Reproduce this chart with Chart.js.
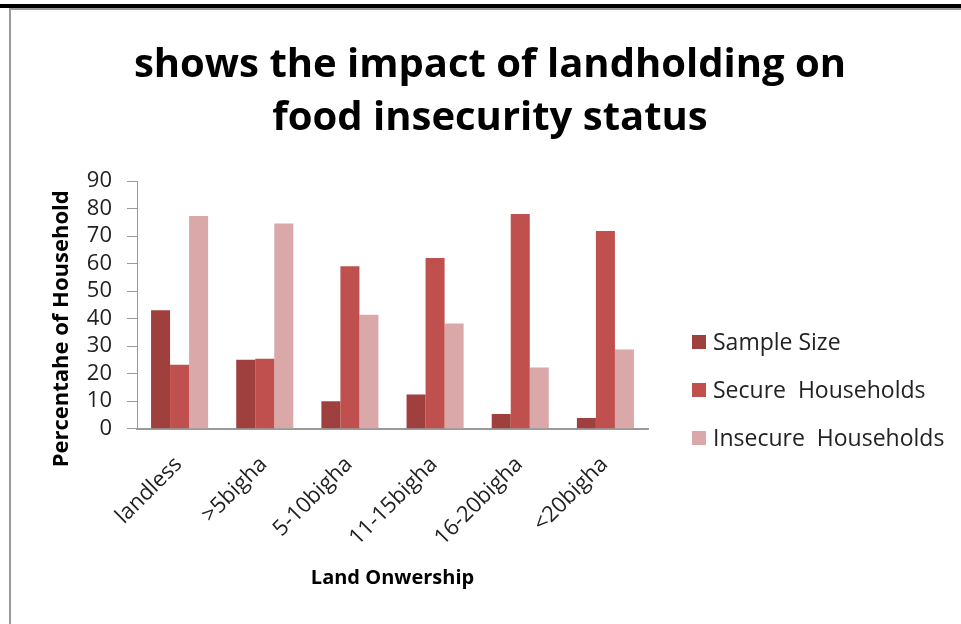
<!DOCTYPE html>
<html>
<head>
<meta charset="utf-8">
<script src="https://cdn.jsdelivr.net/npm/chart.js@4/dist/chart.umd.min.js"></script>
<style>
  body { margin: 0; background: #fff; }
  canvas { display: block; }
</style>
</head>
<body>
<canvas id="grafico" width="961" height="624"></canvas>
<script>
// ====== DATA ======
const categorias = ['landless', '>5bigha', '5-10bigha', '11-15bigha', '16-20bigha', '<20bigha'];
const sampleSize = [43, 25, 10, 12.4, 5.3, 3.9];
const secureHouseholds = [23.2, 25.4, 59, 62, 78, 71.8];
const insecureHouseholds = [77.3, 74.6, 41.4, 38.2, 22.2, 28.8];
const yTicks = [0, 10, 20, 30, 40, 50, 60, 70, 80, 90];
const tituloLinhas = ['shows the impact of landholding on', 'food insecurity status'];
const tituloY = 'Percentahe of Household';

const FONT = '"Open Sans", Lato, sans-serif';

// frame (black bar on top, grey border) + chart title + y title
const moldura = {
  id: 'moldura',
  beforeDraw(chart) {
    const c = chart.ctx;
    c.save();
    c.fillStyle = '#fff';
    c.fillRect(0, 0, chart.width, chart.height);
    c.fillStyle = '#000';
    c.fillRect(0, 4, chart.width, 4);
    c.fillStyle = '#9a9a9a';
    c.fillRect(9, 8, chart.width - 9, 2);
    c.fillRect(9, 8, 2, chart.height - 8);
    c.restore();
  },
  afterDraw(chart) {
    const c = chart.ctx;
    const area = chart.chartArea;
    c.save();
    c.fillStyle = '#000';
    c.textAlign = 'center';
    c.textBaseline = 'alphabetic';
    c.font = 'bold 40px ' + FONT;
    tituloLinhas.forEach((t, i) => c.fillText(t, 490, 77 + i * 53));
    // y axis title
    c.font = 'bold 22px ' + FONT;
    c.textBaseline = 'middle';
    c.translate(area.left - 75, (area.top + area.bottom) / 2 + 24);
    c.rotate(-Math.PI / 2);
    c.fillText(tituloY, 0, 0);
    c.restore();
  }
};

// legend drawn at the right side like the Excel one
const legenda = {
  id: 'legenda',
  afterDraw(chart) {
    const c = chart.ctx;
    const area = chart.chartArea;
    const x = area.right + 44;
    const yMeio = 390;
    const passo = 48;
    c.save();
    c.font = '23px ' + FONT;
    c.textBaseline = 'middle';
    chart.data.datasets.forEach((ds, i) => {
      const y = yMeio + (i - 1) * passo;
      c.fillStyle = ds.backgroundColor;
      c.fillRect(x, y - 7, 14, 14);
      c.fillStyle = '#222';
      c.fillText(ds.label, x + 21, y + 1);
    });
    c.restore();
  }
};

new Chart(document.getElementById('grafico').getContext('2d'), {
  type: 'bar',
  data: {
    labels: categorias,
    datasets: [
      { label: 'Sample Size', data: sampleSize, backgroundColor: '#9f403e' },
      { label: 'Secure  Households', data: secureHouseholds, backgroundColor: '#c0504d' },
      { label: 'Insecure  Households', data: insecureHouseholds, backgroundColor: '#daa8a8' }
    ]
  },
  options: {
    responsive: false,
    devicePixelRatio: 1,
    animation: false,
    layout: { padding: { left: 40, right: 313, top: 181, bottom: 34 } },
    datasets: { bar: { categoryPercentage: 0.67, barPercentage: 1.0 } },
    plugins: {
      legend: { display: false },
      tooltip: { enabled: false },
      title: { display: false }
    },
    scales: {
      x: {
        grid: { display: false },
        border: { color: '#9a9a9a', width: 2 },
        ticks: { color: '#222', font: { family: FONT, size: 22 }, minRotation: 45, maxRotation: 45, padding: 15, labelOffset: -1 },
        title: { display: true, text: 'Land Onwership', color: '#000', font: { family: FONT, size: 20, weight: 'bold' }, padding: { top: 0, bottom: 0 } }
      },
      y: {
        min: 0,
        max: 90,
        afterBuildTicks: axis => { axis.ticks = yTicks.map(v => ({ value: v })); },
        afterFit: axis => { axis.width = 97; },
        grid: { drawOnChartArea: false, drawTicks: true, tickLength: 10, color: '#9a9a9a' },
        border: { color: '#9a9a9a', width: 1 },
        ticks: { color: '#222', font: { family: FONT, size: 22 }, padding: 15, autoSkip: false }
      }
    }
  },
  plugins: [moldura, legenda]
});
</script>
</body>
</html>
